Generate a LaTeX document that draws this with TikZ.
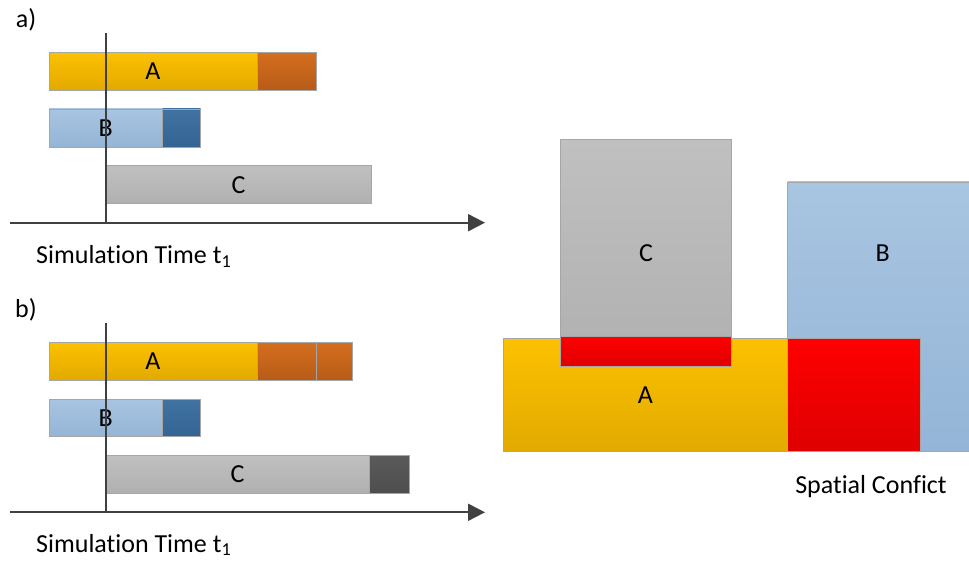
\documentclass[tikz,border=0pt]{standalone}
\usepackage{fontspec}
\setmainfont{Carlito}[Ligatures=NoCommon]
\usetikzlibrary{arrows.meta}
\definecolor{yelT}{RGB}{252,193,0}
\definecolor{yelB}{RGB}{226,170,0}
\definecolor{orT}{RGB}{212,110,30}
\definecolor{orB}{RGB}{184,92,24}
\definecolor{lbT}{RGB}{168,197,225}
\definecolor{lbB}{RGB}{148,181,215}
\definecolor{dbT}{RGB}{64,114,162}
\definecolor{dbB}{RGB}{52,100,148}
\definecolor{grT}{RGB}{192,192,192}
\definecolor{grB}{RGB}{176,176,176}
\definecolor{dgT}{RGB}{90,90,90}
\definecolor{dgB}{RGB}{78,78,78}
\definecolor{rdT}{RGB}{255,0,0}
\definecolor{rdB}{RGB}{222,0,0}
\definecolor{axis}{RGB}{64,64,64}
\begin{document}
\begin{tikzpicture}[x=1pt,y=-1pt,
  txt/.style={font=\fontsize{26}{30}\selectfont, text=black, inner sep=0pt},
  box/.style={draw=black!35, line width=0.8pt, inner sep=0pt, outer sep=0pt,
    anchor=north west, font=\fontsize{26}{30}\selectfont, text=black},
  yel/.style={box, top color=yelT, bottom color=yelB},
  org/.style={box, top color=orT, bottom color=orB},
  lbl/.style={box, top color=lbT, bottom color=lbB},
  dbl/.style={box, top color=dbT, bottom color=dbB},
  gry/.style={box, top color=grT, bottom color=grB},
  dgr/.style={box, top color=dgT, bottom color=dgB},
  red/.style={box, top color=rdT, bottom color=rdB},
  axisline/.style={draw=axis, line width=2pt, -{Triangle[length=17pt,width=17pt]}},
  nowline/.style={draw=axis, line width=1.8pt}
]
\useasboundingbox[fill=white] (0,0) rectangle (969,561);

% ---------- a) ----------
\node[txt] (la) at (26,20) {a)};
\node[yel, minimum width=208pt, minimum height=37.7pt] (aA) at (49,52.3) {A};
\node[org, minimum width=59pt, minimum height=37.7pt] (aAx) at (257,52.3) {};
\node[lbl, minimum width=113.3pt, minimum height=38pt] (aB) at (49,109) {B};
\node[dbl, minimum width=38.4pt, minimum height=38pt] (aBx) at (162.3,109) {};
\node[gry, minimum width=265.3pt, minimum height=38pt] (aC) at (106,165.7) {C};
\coordinate (aV1) at (105.7,33);
\coordinate (aV2) at (105.7,222.7);
\coordinate (aX1) at (10,222.7);
\coordinate (aX2) at (485,222.7);
\draw[nowline] (aV1) -- (aV2);
\draw[axisline] (aX1) -- (aX2);
\node[txt, anchor=base west] (ta) at (36,264) {Simulation Time t\textsubscript{1}};

% ---------- b) ----------
\node[txt] (lb) at (26,310) {b)};
\node[yel, minimum width=208pt, minimum height=37.7pt] (bA) at (49,342.3) {A};
\node[org, minimum width=59.3pt, minimum height=37.7pt] (bAx1) at (257,342.3) {};
\node[org, minimum width=35.7pt, minimum height=37.7pt] (bAx2) at (316.3,342.3) {};
\node[lbl, minimum width=113.3pt, minimum height=37.7pt] (bB) at (49,399) {B};
\node[dbl, minimum width=38.4pt, minimum height=37.7pt] (bBx) at (162.3,399) {};
\node[gry, minimum width=263pt, minimum height=37.6pt] (bC) at (106,455.7) {C};
\node[dgr, minimum width=40pt, minimum height=37.6pt] (bCx) at (369,455.7) {};
\coordinate (bV1) at (105.7,322.7);
\coordinate (bV2) at (105.7,512.3);
\coordinate (bX1) at (10,512.3);
\coordinate (bX2) at (485,512.3);
\draw[nowline] (bV1) -- (bV2);
\draw[axisline] (bX1) -- (bX2);
\node[txt, anchor=base west] (tb) at (36,552) {Simulation Time t\textsubscript{1}};

% ---------- spatial ----------
\node[lbl, minimum width=195pt, minimum height=269.7pt] (sB) at (787.7,182) {};
\node[yel, minimum width=284.4pt, minimum height=113.4pt] (sA) at (503.3,338.3) {A};
\node[gry, minimum width=170.6pt, minimum height=227.4pt] (sC) at (560.7,139.3) {C};
\node[red, minimum width=170.6pt, minimum height=30pt] (sR1) at (560.7,336.7) {};
\node[red, minimum width=133pt, minimum height=113.4pt] (sR2) at (787.7,338.3) {};
\node[txt] (sBl) at (882.7,253) {B};
\node[txt] (sp) at (871,487) {Spatial Confict};
\end{tikzpicture}
\end{document}
